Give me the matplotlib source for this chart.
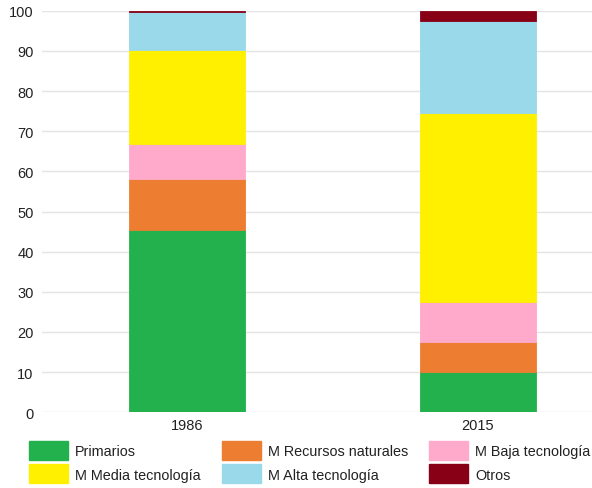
import matplotlib
matplotlib.use("Agg")
from matplotlib import pyplot as plt
from matplotlib.patches import Patch
import numpy as np

plt.rcParams['font.family'] = ['Liberation Sans', 'DejaVu Sans']

years = ['1986', '2015']
series = ['Primarios', 'M Recursos naturales', 'M Baja tecnología',
          'M Media tecnología', 'M Alta tecnología', 'Otros']
primarios = [45.4, 10.1]
recursos = [12.6, 7.5]
baja = [8.7, 9.8]
media = [23.6, 47.1]
alta = [9.5, 22.9]
otros = [0.2, 2.6]
colors = ['#22b14c', '#ed7d31', '#ffaacb', '#fff000', '#99d9ea', '#880015']

values = [primarios, recursos, baja, media, alta, otros]

fig = plt.figure(figsize=(5.92, 4.89), dpi=100)
ax = fig.add_axes([42 / 592, 1 - 413.3 / 489, 550 / 592, 401.6 / 489])

x = np.arange(len(years))
bottom = np.zeros(len(years))
for vals, col in zip(values, colors):
    ax.bar(x, vals, width=0.4, bottom=bottom, color=col, edgecolor=col,
           linewidth=0.6, zorder=3)
    bottom += np.array(vals)

ax.set_xlim(-0.498, 1.392)
ax.set_ylim(0, 100)
ax.set_yticks(range(0, 101, 10))
ax.set_xticks(x)
ax.set_xticklabels(years)
ax.grid(axis='y', color='#e4e4e4', linewidth=1, zorder=0)
for s in ax.spines.values():
    s.set_visible(False)
ax.tick_params(length=0, labelsize=10.5, colors='#222222')
ax.tick_params(axis='y', pad=6)
ax.tick_params(axis='x', pad=4)

# legend: three columns, filled column by column
order = [0, 3, 1, 4, 2, 5]
handles = [Patch(facecolor=colors[i], edgecolor=colors[i]) for i in order]
labels = [series[i] for i in order]
fig.legend(handles, labels, ncol=3, loc='upper left',
           bbox_to_anchor=(29 / 592, 1 - 442 / 489), frameon=False,
           fontsize=10.4, handlelength=2.7, handleheight=1.65,
           handletextpad=0.5, columnspacing=1.45, labelspacing=0.3,
           borderpad=0, borderaxespad=0, labelcolor='#222222')

fig.savefig('out.png', dpi=100)
